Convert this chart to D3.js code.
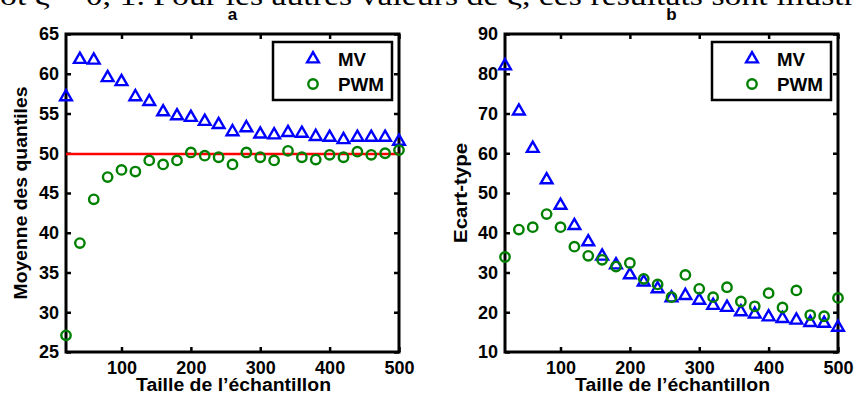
<!DOCTYPE html>
<html><head><meta charset="utf-8">
<script src="https://cdn.jsdelivr.net/npm/d3@7"></script>
<style>body{margin:0;background:#fff}svg{display:block}</style>
</head><body>
<svg id="c" width="855" height="400"></svg>
<script>
const sampleSizes = [20,40,60,80,100,120,140,160,180,200,220,240,260,280,300,320,340,360,380,400,420,440,460,480,500];
const meanMV  = [57.1,61.8,61.7,59.5,59.0,57.1,56.5,55.2,54.7,54.5,54.0,53.6,52.7,53.2,52.4,52.3,52.6,52.5,52.1,52.0,51.7,52.0,52.0,52.0,51.5];
const meanPWM = [27.1,38.7,44.2,47.0,47.9,47.7,49.1,48.6,49.1,50.1,49.7,49.5,48.6,50.1,49.5,49.1,50.3,49.5,49.2,49.8,49.5,50.2,49.8,50.0,50.4];
const trueQuantile = 49.9;
const sdMV  = [82.0,70.6,61.2,53.3,46.9,41.8,37.7,34.1,31.9,29.4,27.6,25.9,23.6,24.2,23.0,21.7,21.2,20.1,19.5,18.8,18.4,18.0,17.4,17.2,16.2];
const sdPWM = [33.9,40.8,41.4,44.7,41.4,36.5,34.2,33.2,31.5,32.4,28.4,27.0,23.8,29.4,25.9,23.8,26.3,22.7,21.5,24.8,21.2,25.5,19.3,19.0,23.6];
const xTicks = [100,200,300,400,500];
const yTicksA = [25,30,35,40,45,50,55,60,65];
const yTicksB = [10,20,30,40,50,60,70,80,90];
const seriesNames = ["MV","PWM"];

const svg = d3.select("#c");
const FONT = "'Liberation Sans', Arial, sans-serif";

// clipped running text from the document above the figure
svg.append("text").attr("x",0).attr("y",5)
  .attr("font-family","'Liberation Serif','Times New Roman',serif").attr("font-size",27)
  .attr("textLength",855).attr("lengthAdjust","spacingAndGlyphs")
  .text("ot ξ = 0, 1. Pour les autres valeurs de ξ, ces résultats sont illustr");

function styleTickText(a){
  a.selectAll("text").attr("font-family",FONT).attr("font-weight","bold").attr("font-size",18).attr("fill","#000");
}

function panel(opts){
  const {left,right,top,bottom,yDomain,yTicks,mv,pwm,title,ylab,ylabX,ylabY,ylabLen,refLine} = opts;
  const x = d3.scaleLinear().domain([20,500]).range([left,right]);
  const y = d3.scaleLinear().domain(yDomain).range([bottom,top]);
  const g = svg.append("g");

  const tl = 5;
  g.append("g").attr("transform",`translate(0,${bottom})`)
    .call(d3.axisBottom(x).tickValues(xTicks).tickSize(-tl).tickPadding(9).tickFormat(d3.format("d")))
    .call(a=>{a.select(".domain").remove();a.selectAll("line").attr("stroke","#000").attr("stroke-width",2.5);styleTickText(a);});
  g.append("g").attr("transform",`translate(0,${top})`)
    .call(d3.axisTop(x).tickValues(xTicks).tickSize(-tl).tickFormat(""))
    .call(a=>{a.select(".domain").remove();a.selectAll("line").attr("stroke","#000").attr("stroke-width",2.5);});
  g.append("g").attr("transform",`translate(${left},0)`)
    .call(d3.axisLeft(y).tickValues(yTicks).tickSize(-tl).tickPadding(7).tickFormat(d3.format("d")))
    .call(a=>{a.select(".domain").remove();a.selectAll("line").attr("stroke","#000").attr("stroke-width",2.5);styleTickText(a);});
  g.append("g").attr("transform",`translate(${right},0)`)
    .call(d3.axisRight(y).tickValues(yTicks).tickSize(-tl).tickFormat(""))
    .call(a=>{a.select(".domain").remove();a.selectAll("line").attr("stroke","#000").attr("stroke-width",2.5);});

  g.append("rect").attr("x",left).attr("y",top).attr("width",right-left).attr("height",bottom-top)
    .attr("fill","none").attr("stroke","#000").attr("stroke-width",3);

  if(refLine!==undefined){
    g.append("line").attr("x1",x(20)).attr("x2",x(500)).attr("y1",y(refLine)).attr("y2",y(refLine))
      .attr("stroke","#ff0000").attr("stroke-width",2.5);
  }

  const tri = d3.symbol().type(d3.symbolTriangle).size(60);
  g.selectAll(".mv").data(sampleSizes).join("path")
    .attr("d",tri).attr("transform",(d,i)=>`translate(${x(d)},${y(mv[i])})`)
    .attr("fill","none").attr("stroke","#0000ff").attr("stroke-width",2.4);
  g.selectAll(".pwm").data(sampleSizes).join("circle")
    .attr("cx",d=>x(d)).attr("cy",(d,i)=>y(pwm[i])).attr("r",4.7)
    .attr("fill","none").attr("stroke","#008000").attr("stroke-width",2.4);

  // legend
  const lx = right-126, ly = top+8;
  g.append("rect").attr("x",lx).attr("y",ly).attr("width",119).attr("height",58)
    .attr("fill","#fff").attr("stroke","#000").attr("stroke-width",2.5);
  g.append("path").attr("d",tri).attr("transform",`translate(${lx+40},${ly+17})`)
    .attr("fill","none").attr("stroke","#0000ff").attr("stroke-width",2.4);
  g.append("circle").attr("cx",lx+40).attr("cy",ly+42).attr("r",4.7)
    .attr("fill","none").attr("stroke","#008000").attr("stroke-width",2.4);
  g.selectAll(".lt").data(seriesNames).join("text")
    .attr("x",lx+65).attr("y",(d,i)=>ly+24+i*25).text(d=>d)
    .attr("textLength",(d,i)=>i===0?28:46).attr("lengthAdjust","spacingAndGlyphs")
    .attr("font-family",FONT).attr("font-weight","bold").attr("font-size",18);

  // titles
  svg.append("text").attr("x",(left+right)/2).attr("y",20).attr("text-anchor","middle")
    .attr("font-family",FONT).attr("font-weight","bold").attr("font-size",17).text(title);
  svg.append("text").attr("x",(left+right)/2+1).attr("y",391).attr("text-anchor","middle")
    .attr("textLength",195).attr("lengthAdjust","spacingAndGlyphs")
    .attr("font-family",FONT).attr("font-weight","bold").attr("font-size",18).text("Taille de l’échantillon");
  svg.append("text").attr("transform",`translate(${ylabX},${ylabY}) rotate(-90)`)
    .attr("text-anchor","middle")
    .attr("textLength",ylabLen).attr("lengthAdjust","spacingAndGlyphs")
    .attr("font-family",FONT).attr("font-weight","bold").attr("font-size",18).text(ylab);
}

panel({left:66,right:399,top:34,bottom:352,yDomain:[25,65],yTicks:yTicksA,mv:meanMV,pwm:meanPWM,
  title:"a",ylab:"Moyenne des quantiles",ylabX:27,ylabY:193,ylabLen:213,refLine:trueQuantile});
panel({left:505,right:838,top:34,bottom:352,yDomain:[10,90],yTicks:yTicksB,mv:sdMV,pwm:sdPWM,
  title:"b",ylab:"Ecart-type",ylabX:467,ylabY:193,ylabLen:100});
</script>
</body></html>
